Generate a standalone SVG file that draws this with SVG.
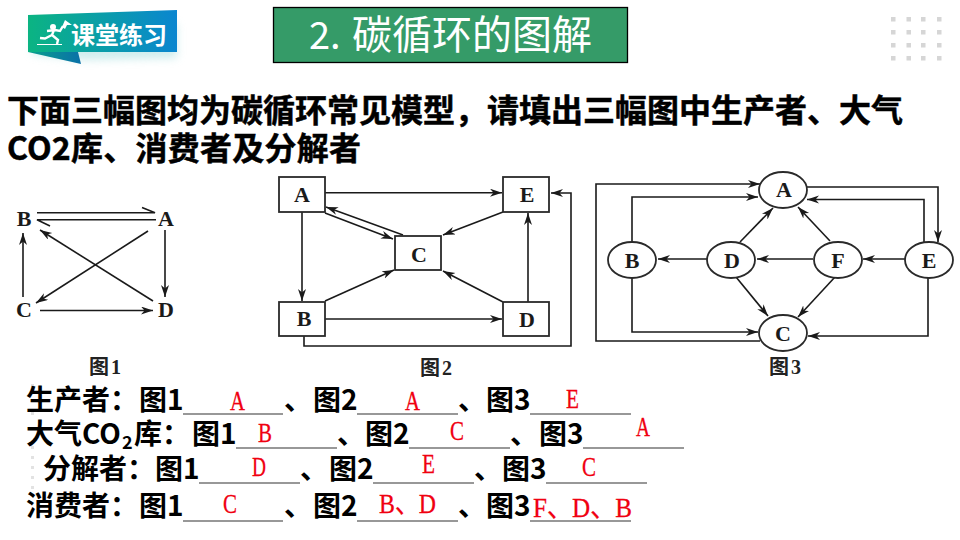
<svg xmlns="http://www.w3.org/2000/svg" width="960" height="540" viewBox="0 0 960 540">
<style>
.ln{fill:none;stroke:#1a1a1a;stroke-width:1.6}
.ar{marker-end:url(#ah)}
.box{fill:#fff;stroke:#2a2a2a;stroke-width:1.8}
.nd{font:bold 22px "Liberation Serif","DejaVu Serif",serif;fill:#1a1a1a;text-anchor:middle}
.cap{font:bold 20px "Liberation Serif","Noto Sans CJK SC",serif;fill:#222;text-anchor:middle;letter-spacing:2px}
.main{font:700 32px "Noto Sans CJK SC",sans-serif;fill:#000;stroke:#000;stroke-width:.5}
.row{font:700 28px "Noto Sans CJK SC",sans-serif;fill:#000}
.sub{font:700 18px "Noto Sans CJK SC",sans-serif;fill:#000}
.ans{font:28px "Liberation Serif","Noto Sans CJK SC",serif;fill:#f00010;stroke:#f00010;stroke-width:.3}
.ul{stroke:#333;stroke-width:1.2}
.dot{fill:#d6d6d6}
.fd{fill:#e2e2e2}
</style>
<defs>
<marker id="ah" markerUnits="userSpaceOnUse" markerWidth="14" markerHeight="10" refX="12" refY="4" orient="auto"><path d="M12 4L0 0L3.500 4L0 8Z" fill="#1a1a1a"/></marker>
<linearGradient id="bg" x1="0" x2="1" y1="0" y2="0"><stop offset="0" stop-color="#0bb482"/><stop offset="1" stop-color="#0a86d0"/></linearGradient>
<linearGradient id="tl" x1="0" x2="1" y1="0" y2="0"><stop offset="0" stop-color="#0aa08c"/><stop offset="1" stop-color="#0a70a8"/></linearGradient>
<filter id="sh" x="-20%" y="-30%" width="140%" height="180%"><feGaussianBlur stdDeviation="4"/></filter>
</defs>
<rect width="960" height="540" fill="#fff"/>

<g id="badge">
<path d="M32 24L177 24L177 58L85 60L32 54Z" fill="#9fdcdc" opacity=".5" filter="url(#sh)"/>
<path d="M28 52L78 52L81 64Z" fill="url(#tl)"/>
<path d="M28 15L177 10L177 52L28 52Z" fill="url(#bg)"/>
<circle cx="53" cy="27" r="3" fill="#fff"/>
<path d="M47 31L55 30L60 31L63 26M54 30L52 35L45 38.500L40 38M52 35L58 40L57 44" fill="none" stroke="#fff" stroke-width="2.400"/>
<path d="M62 27L65 20L72 25L67 25L65 29Z" fill="#fff"/>
<path d="M37 44.500H62" stroke="#fff"/>
<text x="71" y="44" font-family="'Noto Sans CJK SC',sans-serif" font-weight="700" font-size="24" fill="#fff">课堂练习</text>
</g>

<g id="title">
<rect x="273.500" y="7.500" width="354" height="55" fill="#359b68" stroke="#000" stroke-width="1.300"/>
<text x="309" y="49" font-family="'Noto Sans CJK SC',sans-serif" font-weight="400" font-size="38" fill="#fff">2.</text>
<text x="352" y="49" font-family="'Noto Sans CJK SC',sans-serif" font-weight="400" font-size="40" fill="#fff">碳循环的图解</text>
</g>

<g id="dots">
<rect class="dot" x="891" y="17" width="4.500" height="4.500"/><rect class="dot" x="906.500" y="17" width="4.500" height="4.500"/><rect class="dot" x="921" y="17" width="4.500" height="4.500"/><rect class="dot" x="937" y="17" width="4.500" height="4.500"/>
<rect class="dot" x="891" y="30" width="4.500" height="4.500"/><rect class="dot" x="906.500" y="30" width="4.500" height="4.500"/><rect class="dot" x="921" y="30" width="4.500" height="4.500"/><rect class="dot" x="937" y="30" width="4.500" height="4.500"/>
<rect class="dot" x="891" y="43" width="4.500" height="4.500"/><rect class="dot" x="906.500" y="43" width="4.500" height="4.500"/><rect class="dot" x="921" y="43" width="4.500" height="4.500"/><rect class="dot" x="937" y="43" width="4.500" height="4.500"/>
<rect class="dot" x="891" y="56" width="4.500" height="4.500"/><rect class="dot" x="906.500" y="56" width="4.500" height="4.500"/><rect class="dot" x="921" y="56" width="4.500" height="4.500"/><rect class="dot" x="937" y="56" width="4.500" height="4.500"/>
</g>
<g id="faint-dots">
<rect class="fd" x="31" y="384" width="3" height="3"/><rect class="fd" x="31" y="412" width="3" height="3"/><rect class="fd" x="31" y="446" width="3" height="3"/><rect class="fd" x="31" y="456" width="3" height="3"/><rect class="fd" x="31" y="466" width="3" height="3"/><rect class="fd" x="31" y="476" width="3" height="3"/><rect class="fd" x="31" y="486" width="3" height="3"/>
</g>

<g id="prompt">
<text class="main" x="7" y="122">下面三幅图均为碳循环常见模型，请填出三幅图中生产者、大气</text>
<text class="main" x="7" y="160" textLength="354">CO2库、消费者及分解者</text>
</g>

<g id="fig1-connectors">
<path class="ln" d="M37 212.700H155L142 207.500"/>
<path class="ln" d="M156 219.700H37L50 226"/>
<path class="ln ar" d="M153 301L40 230"/>
<path class="ln ar" d="M148 231L36 303"/>
<path class="ln ar" d="M165 230V297"/>
<path class="ln ar" d="M23 297V233"/>
<path class="ln ar" d="M40 310.500H153"/>
</g>
<g id="fig1-nodes">
<text id="f1-b" class="nd" x="24" y="226">B</text>
<text id="f1-a" class="nd" x="166" y="226">A</text>
<text id="f1-c" class="nd" x="24" y="317">C</text>
<text id="f1-d" class="nd" x="166" y="317">D</text>
<text class="cap" x="106" y="374">图1</text>
</g>

<g id="fig2-connectors">
<path class="ln ar" d="M325 192.700H502"/>
<path class="ln ar" d="M325 213L393 239"/>
<path class="ln ar" d="M403 235L326 207"/>
<path class="ln ar" d="M503 212L443 235"/>
<path class="ln ar" d="M325 301L394 270"/>
<path class="ln ar" d="M503 302L443 271"/>
<path class="ln ar" d="M528 302V213"/>
<path class="ln ar" d="M302 212V301"/>
<path class="ln ar" d="M325 319H502"/>
<path class="ln ar" d="M304 336V346H571V193H551"/>
</g>
<g id="fig2-a"><rect class="box" x="279" y="177" width="46" height="35"/><text class="nd" x="302" y="202">A</text></g>
<g id="fig2-e"><rect class="box" x="503" y="177" width="46" height="35"/><text class="nd" x="527" y="202">E</text></g>
<g id="fig2-c"><rect class="box" x="395" y="236" width="46" height="34"/><text class="nd" x="419" y="262">C</text></g>
<g id="fig2-b"><rect class="box" x="279" y="302" width="46" height="34"/><text class="nd" x="304" y="326">B</text></g>
<g id="fig2-d"><rect class="box" x="503" y="302" width="46" height="34"/><text class="nd" x="527" y="327">D</text></g>
<text class="cap" x="437" y="375">图2</text>

<g id="fig3-connectors">
<path class="ln ar" d="M760 341H596V184H760"/>
<path class="ln ar" d="M632 242V197H758"/>
<path class="ln ar" d="M632 277V332H758"/>
<path class="ln ar" d="M807 187H938V242"/>
<path class="ln ar" d="M924 242V199.500H807"/>
<path class="ln ar" d="M740 242L773 208"/>
<path class="ln ar" d="M830 241L798 207"/>
<path class="ln ar" d="M707 259H658"/>
<path class="ln ar" d="M813 259H757"/>
<path class="ln ar" d="M905 259H863"/>
<path class="ln ar" d="M736 277L768 316"/>
<path class="ln ar" d="M835 277L798 317"/>
<path class="ln ar" d="M928 277V336H808"/>
</g>
<g id="fig3-a"><ellipse class="box" cx="783" cy="190" rx="24" ry="18"/><text class="nd" x="784" y="197">A</text></g>
<g id="fig3-c"><ellipse class="box" cx="783" cy="333" rx="24" ry="18"/><text class="nd" x="783" y="341">C</text></g>
<g id="fig3-b"><ellipse class="box" cx="632" cy="260" rx="24" ry="18"/><text class="nd" x="632" y="268">B</text></g>
<g id="fig3-d"><ellipse class="box" cx="731" cy="260" rx="24" ry="18"/><text class="nd" x="732" y="268">D</text></g>
<g id="fig3-f"><ellipse class="box" cx="838" cy="260" rx="24" ry="18"/><text class="nd" x="838" y="268">F</text></g>
<g id="fig3-e"><ellipse class="box" cx="929" cy="260" rx="24" ry="18"/><text class="nd" x="929" y="268">E</text></g>
<text class="cap" x="786" y="374">图3</text>

<g id="answers">
<text class="row" x="26" y="410">生产者：</text><text class="row" x="139" y="410">图1</text><line class="ul" x1="183" y1="414" x2="283" y2="414"/><text class="row" x="284" y="410">、</text><text class="row" x="313" y="410">图2</text><line class="ul" x1="357" y1="414" x2="458" y2="414"/><text class="row" x="458" y="410">、</text><text class="row" x="486" y="410">图3</text><line class="ul" x1="530" y1="414" x2="631" y2="414"/>

<text class="row" x="26" y="444">大气CO</text><text class="sub" x="122" y="449">2</text><text class="row" x="134" y="444">库：</text><text class="row" x="192" y="444">图1</text><line class="ul" x1="236" y1="448" x2="337" y2="448"/><text class="row" x="337" y="444">、</text><text class="row" x="365" y="444">图2</text><line class="ul" x1="409" y1="448" x2="510" y2="448"/><text class="row" x="510" y="444">、</text><text class="row" x="539" y="444">图3</text><line class="ul" x1="583" y1="448" x2="684" y2="448"/>

<text class="row" x="43" y="479">分解者：</text><text class="row" x="155" y="479">图1</text><line class="ul" x1="199" y1="483" x2="300" y2="483"/><text class="row" x="300" y="479">、</text><text class="row" x="329" y="479">图2</text><line class="ul" x1="373" y1="483" x2="474" y2="483"/><text class="row" x="474" y="479">、</text><text class="row" x="502" y="479">图3</text><line class="ul" x1="546" y1="483" x2="647" y2="483"/>

<text class="row" x="26" y="516">消费者：</text><text class="row" x="139" y="516">图1</text><line class="ul" x1="183" y1="521" x2="283" y2="521"/><text class="row" x="284" y="516">、</text><text class="row" x="313" y="516">图2</text><line class="ul" x1="357" y1="521" x2="458" y2="521"/><text class="row" x="458" y="516">、</text><text class="row" x="486" y="516">图3</text><line class="ul" x1="530" y1="521" x2="631" y2="521"/>

<text class="ans" x="230" y="410" textLength="15" lengthAdjust="spacingAndGlyphs">A</text>
<text class="ans" x="405" y="410" textLength="15" lengthAdjust="spacingAndGlyphs">A</text>
<text class="ans" x="566" y="408" textLength="13" lengthAdjust="spacingAndGlyphs">E</text>
<text class="ans" x="258" y="442" textLength="14" lengthAdjust="spacingAndGlyphs">B</text>
<text class="ans" x="450" y="440" textLength="14" lengthAdjust="spacingAndGlyphs">C</text>
<text class="ans" x="636" y="436" textLength="14" lengthAdjust="spacingAndGlyphs">A</text>
<text class="ans" x="252" y="476" textLength="14" lengthAdjust="spacingAndGlyphs">D</text>
<text class="ans" x="422" y="473" textLength="13" lengthAdjust="spacingAndGlyphs">E</text>
<text class="ans" x="582" y="476" textLength="14" lengthAdjust="spacingAndGlyphs">C</text>
<text class="ans" x="223" y="513" textLength="14" lengthAdjust="spacingAndGlyphs">C</text>
<text class="ans" x="379" y="513" textLength="57" lengthAdjust="spacingAndGlyphs">B、D</text>
<text class="ans" x="533" y="517" textLength="99" lengthAdjust="spacingAndGlyphs">F、D、B</text>
</g>
</svg>
